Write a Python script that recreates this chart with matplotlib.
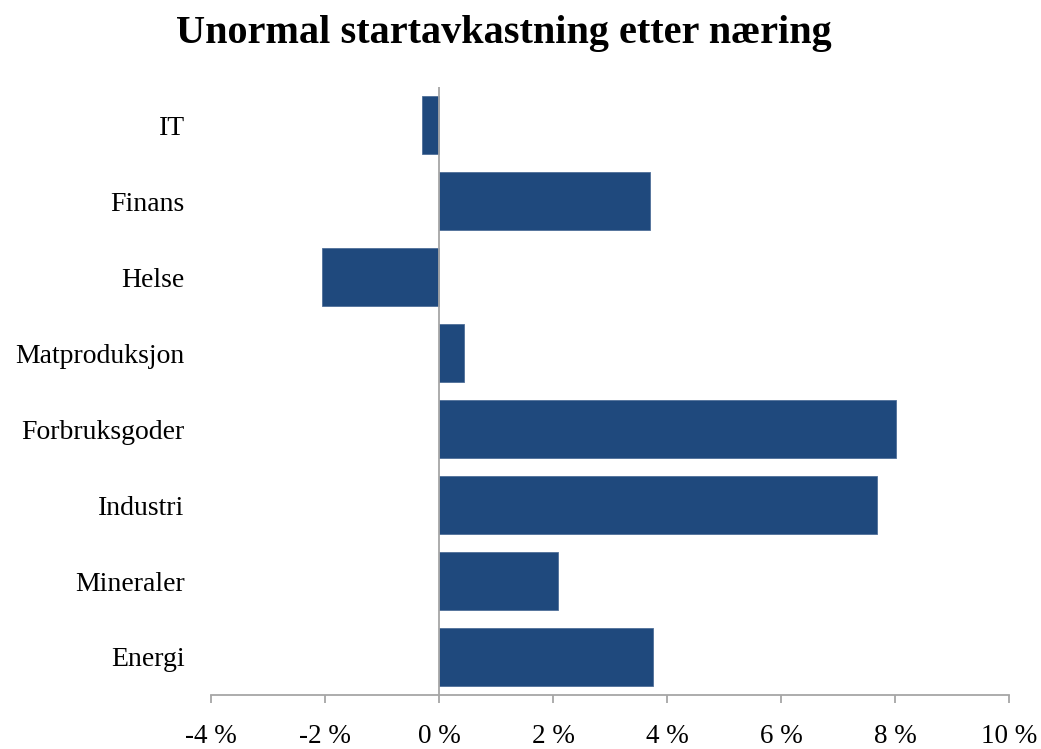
import matplotlib.pyplot as plt

# Abnormal first-day return per industry (percent)
industries = ["Energi", "Mineraler", "Industri", "Forbruksgoder",
              "Matproduksjon", "Helse", "Finans", "IT"]
returns = [3.76, 2.09, 7.68, 8.01, 0.43, -2.05, 3.71, -0.29]
x_ticks = [-4, -2, 0, 2, 4, 6, 8, 10]

plt.rcParams['font.family'] = ['Liberation Serif', 'DejaVu Serif']

fig = plt.figure(figsize=(10.41, 7.49), dpi=100)
ax = fig.add_axes([0.2027, 0.0721, 0.7666, 0.8117])

ax.barh(range(len(industries)), returns, height=0.765,
        color='#1F497D', edgecolor='#4F6F99', linewidth=0.6, zorder=2)

# Category axis crossing at zero
ax.axvline(0, color='#A6A6A6', linewidth=1.3, zorder=3)

ax.set_xlim(-4, 10)
ax.set_ylim(-0.5, len(industries) - 0.5)
ax.set_xticks(x_ticks)
ax.set_xticklabels([f"{t} %" for t in x_ticks], fontsize=19.5)
ax.set_yticks(range(len(industries)))
ax.set_yticklabels(industries, fontsize=20)

for side in ['top', 'right', 'left']:
    ax.spines[side].set_visible(False)
ax.spines['bottom'].set_color('#A6A6A6')
ax.spines['bottom'].set_linewidth(1.3)
ax.tick_params(axis='x', direction='out', length=6, width=1.3,
               color='#A6A6A6', pad=15)
ax.tick_params(axis='y', length=0, pad=19)

fig.text(0.484, 0.942, "Unormal startavkastning etter næring",
         ha='center', va='baseline', fontsize=29, fontweight='bold')

fig.savefig("out.png", dpi=100)
